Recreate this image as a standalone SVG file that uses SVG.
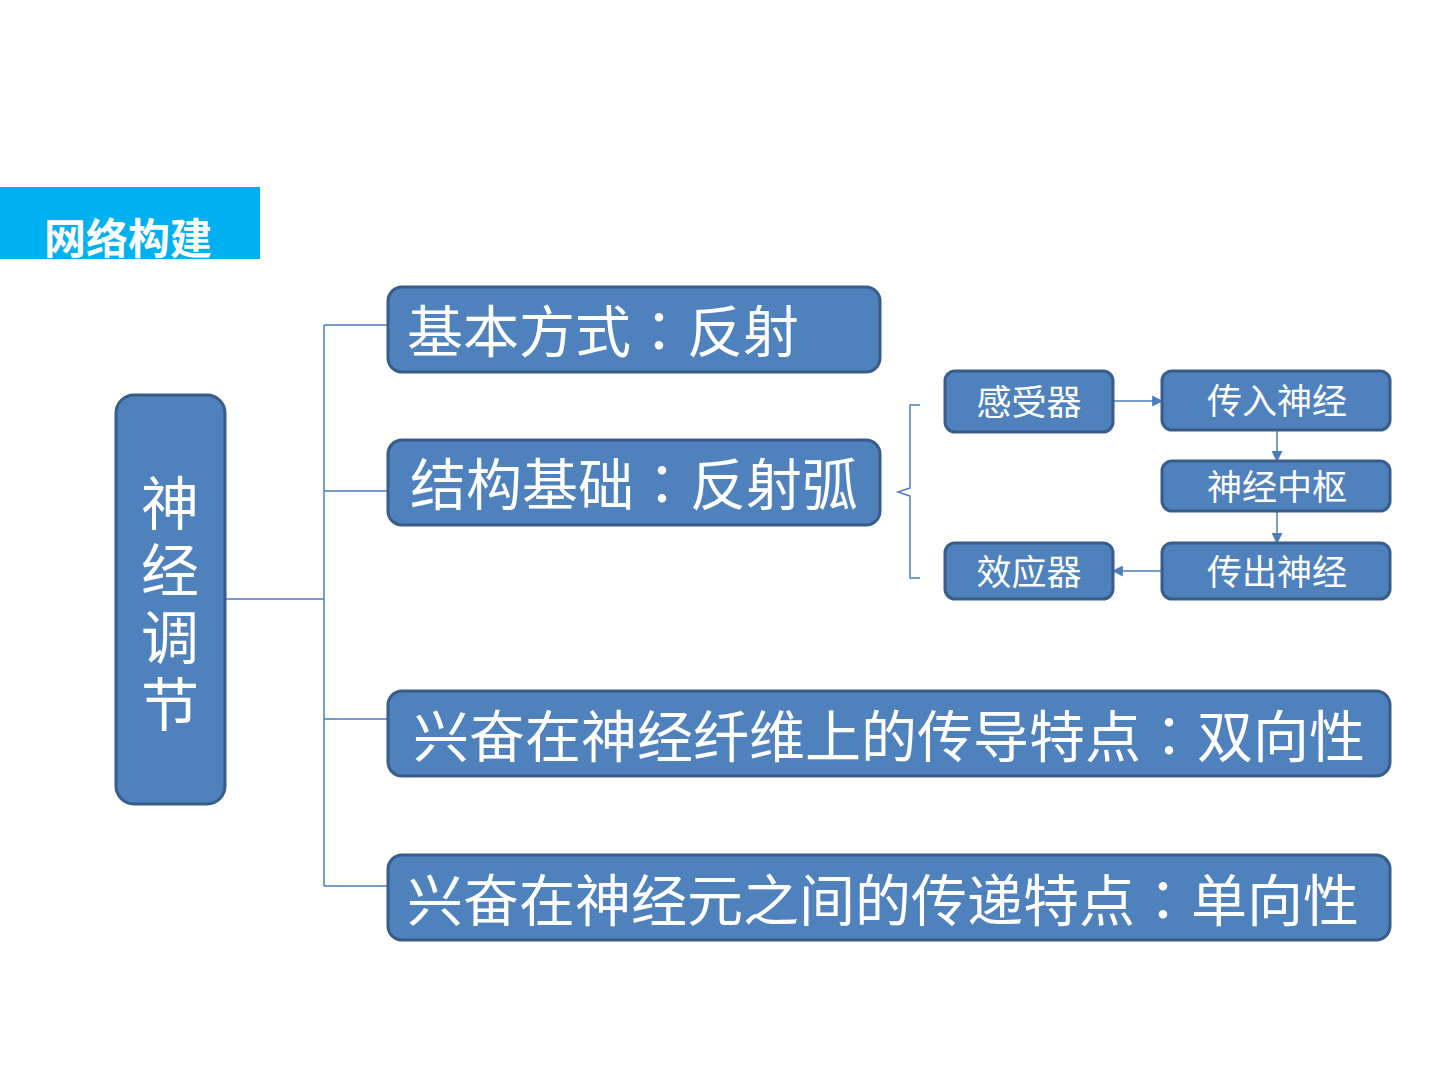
<svg xmlns="http://www.w3.org/2000/svg" width="1440" height="1080" viewBox="0 0 1440 1080">
<defs>
<style>
.box{fill:#4F81BD;stroke:#385D8A;stroke-width:3}
.t{font-family:"Noto Sans CJK SC","Microsoft YaHei",sans-serif;fill:#fff}
.c{font-family:"Noto Sans CJK TC",sans-serif}
.big{font-size:56px}
.sm{font-size:35px;text-anchor:middle}
.ln{fill:none;stroke:#4A7EBB;stroke-width:1.5}
</style>
<marker id="ah" viewBox="0 0 10 10" refX="9" refY="5" markerWidth="11" markerHeight="11" markerUnits="userSpaceOnUse" orient="auto">
<path d="M0,0 L10,5 L0,10 z" fill="#4A7EBB"/>
</marker>
<clipPath id="hc"><rect x="0" y="187" width="260" height="72"/></clipPath>
</defs>
<rect width="1440" height="1080" fill="#fff"/>
<g id="header">
<rect x="0" y="187" width="260" height="72" fill="#00B0F0"/>
<text class="t" x="44" y="254" font-size="42" font-weight="bold" clip-path="url(#hc)">网络构建</text>
</g>
<g id="connectors">
<path class="ln" d="M225,599 H324 M324,325 V886 M324,325 H388 M324,491 H388 M324,719 H388 M324,886 H388"/>
<path class="ln" d="M920,405 H910 V488 L898,492 L910,496 V578 H920"/>
<path class="ln" d="M1113,401 H1162" marker-end="url(#ah)"/>
<path class="ln" d="M1277,430 V461" marker-end="url(#ah)"/>
<path class="ln" d="M1277,511 V543" marker-end="url(#ah)"/>
<path class="ln" d="M1162,571 H1113" marker-end="url(#ah)"/>
</g>
<g id="root">
<rect class="box" x="116" y="395" width="109" height="409" rx="18"/>
<text class="t" font-size="58" x="170" y="474" style="writing-mode:vertical-rl;letter-spacing:9px">神经调节</text>
</g>
<g id="n1">
<rect class="box" x="388" y="287" width="492" height="85" rx="14"/>
<text class="t big" x="407" y="352">基本方式<tspan class="c">：</tspan>反射</text>
</g>
<g id="n2">
<rect class="box" x="388" y="440" width="492" height="85" rx="14"/>
<text class="t big" x="410" y="505">结构基础<tspan class="c">：</tspan>反射弧</text>
</g>
<g id="n3">
<rect class="box" x="388" y="691" width="1002" height="85" rx="14"/>
<text class="t big" x="413" y="757">兴奋在神经纤维上的传导特点<tspan class="c">：</tspan>双向性</text>
</g>
<g id="n4">
<rect class="box" x="388" y="855" width="1002" height="85" rx="14"/>
<text class="t big" x="407" y="921">兴奋在神经元之间的传递特点<tspan class="c">：</tspan>单向性</text>
</g>
<g id="s1">
<rect class="box" x="945" y="371" width="168" height="61" rx="10"/>
<text class="t sm" x="1029" y="415">感受器</text>
</g>
<g id="s2">
<rect class="box" x="1162" y="371" width="228" height="59" rx="10"/>
<text class="t sm" x="1277" y="414">传入神经</text>
</g>
<g id="s3">
<rect class="box" x="1162" y="461" width="228" height="50" rx="10"/>
<text class="t sm" x="1277" y="500">神经中枢</text>
</g>
<g id="s4">
<rect class="box" x="1162" y="543" width="228" height="56" rx="10"/>
<text class="t sm" x="1277" y="585">传出神经</text>
</g>
<g id="s5">
<rect class="box" x="945" y="543" width="168" height="56" rx="10"/>
<text class="t sm" x="1029" y="585">效应器</text>
</g>
</svg>
